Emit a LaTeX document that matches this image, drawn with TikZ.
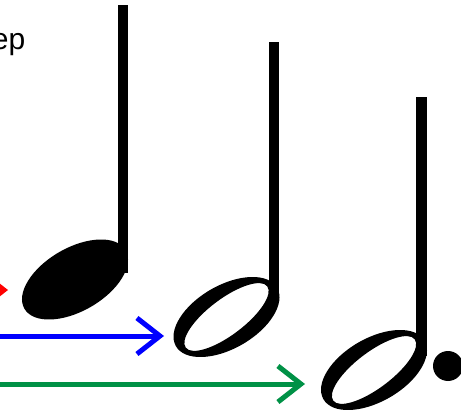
\documentclass[tikz,border=0pt]{standalone}
\usepackage{fontspec}
\setmainfont{Liberation Sans}
\usetikzlibrary{arrows.meta}
\tikzset{
  stemrect/.style={fill=black},
  flow/.style={line width=5pt,-{Straight Barb[length=23pt,width=36pt]}},
}
\begin{document}
\begin{tikzpicture}[x=1pt,y=1pt]
\useasboundingbox (0,0) rectangle (461,413);
\clip (0,0) rectangle (461,413);
% label
\node[anchor=base east,inner sep=0pt,font=\fontsize{30}{32}\selectfont] (lbl) at (25.5,363) {ep};
% quarter note
\coordinate (qc) at (75,133.5);
\fill[rotate around={30:(qc)}] (qc) ellipse [x radius=58.4pt, y radius=31.6pt];
\fill[stemrect] (118,408) rectangle (128,140);
% half note
\coordinate (hc) at (226.5,96);
\fill[even odd rule] [rotate around={30:(hc)}] (hc) ellipse [x radius=58.4pt, y radius=31.6pt]
  [rotate around={7:(hc)}] (hc) ellipse [x radius=51pt, y radius=18pt];
\fill[stemrect] (269,371) rectangle (279,110);
% dotted half note
\coordinate (dc) at (374,43);
\fill[even odd rule] [rotate around={30:(dc)}] (dc) ellipse [x radius=58.4pt, y radius=31.6pt]
  [rotate around={7:(dc)}] (dc) ellipse [x radius=51pt, y radius=18pt];
\fill[stemrect] (416,316) rectangle (427,57);
\fill (448,47) circle [radius=15pt];
% arrows
\coordinate (rs) at (-60,123);
\coordinate (re) at (8,123);
\coordinate (bs) at (-10,77);
\coordinate (be) at (164,77);
\coordinate (gs) at (-10,29);
\coordinate (ge) at (305,29);
\draw[flow,red] (rs) -- (re);
\draw[flow,blue] (bs) -- (be);
\draw[flow,color={rgb,255:red,0;green,145;blue,70}] (gs) -- (ge);
\end{tikzpicture}
\end{document}
